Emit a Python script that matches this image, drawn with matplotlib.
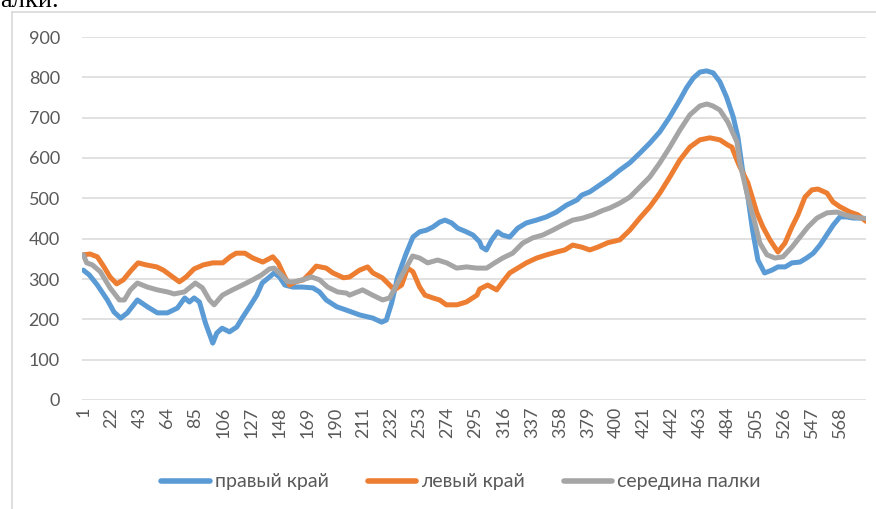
import matplotlib
matplotlib.use("Agg")
import matplotlib.pyplot as plt
from matplotlib.lines import Line2D

# ---- data ----
x_right = [1, 5.5, 11.5, 19, 24, 29, 34, 41.5, 49, 56.5, 64, 71.5, 77, 80.5, 84, 88, 92.5, 98,
           101, 105, 110.5, 116, 120, 125.5, 131, 135, 140.5, 144, 148, 152, 158, 165, 173, 178,
           183, 191, 198, 208, 218, 224.5, 228, 232, 236.5, 243, 248, 253, 258, 263, 268, 272,
           277, 281.5, 288, 293, 298, 299.5, 303, 307, 311.5, 315, 320.5, 326.5, 333, 340.5, 348,
           355.5, 363, 371, 374.5, 380.5, 388, 395.5, 403, 410.5, 418, 425.5, 433, 440.5, 448,
           453, 458, 463, 468, 473, 478, 483, 488, 491.5, 495, 499, 502.5, 506.5, 511.5, 517,
           521.5, 527, 532, 538, 543, 548, 553, 558, 563, 568, 573, 578, 584.5, 587.5]
right_edge = [322, 310, 285, 248, 218, 203, 216, 248, 231, 216, 216, 228, 253, 243, 253, 243, 191, 141,
              166, 178, 169, 181, 203, 231, 260, 290, 305, 315, 305, 285, 280, 280, 278, 268,
              248, 231, 223, 211, 203, 193, 198, 240, 305, 364, 404, 417, 421, 429, 441, 446,
              439, 426, 417, 409, 392, 379, 372, 397, 417, 409, 404, 426, 439, 446, 454,
              466, 483, 496, 508, 516, 533, 550, 570, 588, 612, 637, 665, 702, 744,
              774, 798, 813, 816, 811, 789, 751, 702, 652, 570, 503, 421, 347, 315, 322,
              330, 330, 340, 342, 352, 364, 384, 409, 434, 454, 454, 451, 451, 448]

x_left = [1, 6, 11.5, 16.5, 21, 26, 31, 37, 42, 48, 56, 61, 68, 73, 78, 84, 91, 98, 105.5, 111,
          115.5, 122, 128, 135.5, 143, 147, 152, 155.5, 160, 166, 171, 175.5, 183, 188, 196,
          200.5, 208, 214, 218, 225, 229, 234, 239.5, 244, 248, 253, 257, 263, 268, 273, 281,
          288, 296, 298, 304, 310.75, 315.25, 320.5, 326.5, 333, 340.75, 348.25, 355.75, 361.75,
          367.75, 374.5, 380.5, 386.5, 394, 403, 410.5, 418, 425.5, 433, 440.5, 448, 455.5, 463,
          470.5, 478, 484, 487, 490.75, 493, 499, 505.75, 510.25, 515.5, 521.5, 526.75, 532,
          536.5, 541.75, 547, 551.5, 558.25, 562.75, 568, 575.5, 581.5, 587.5]
left_edge = [360, 362, 355, 330, 305, 288, 298, 322, 340, 335, 330, 322, 305, 293, 305, 325, 335, 340, 340, 355,
             364, 364, 352, 342, 355, 340, 305, 285, 293, 298, 315, 332, 327, 315, 303,
             305, 322, 330, 315, 303, 290, 273, 285, 327, 318, 280, 260, 253, 248, 236, 236,
             243, 260, 275, 285, 273, 293, 315, 327, 340, 352, 360, 367, 372,
             384, 379, 372, 379, 390, 397, 421, 451, 479, 513, 553, 595, 627, 645,
             650, 645, 632, 627, 595, 578, 538, 464, 429, 397, 367, 389, 429,
             459, 503, 521, 523, 513, 491, 479, 466, 459, 443]

x_mid = [1, 3.5, 7.75, 13.75, 21, 28, 31.75, 36.25, 41.5, 49, 56.5, 64, 69, 76.75, 81.25, 85, 90.25,
         95.5, 99, 105.25, 112.75, 120.25, 128, 134.5, 140.5, 144, 149.5, 154, 159, 165.25, 172,
         178, 184, 191.5, 198.25, 200.5, 210.25, 217.75, 225.25, 230.5, 236.5, 243.25, 247.75, 253,
         259, 266.5, 273.25, 280.75, 288.25, 295.75, 303.25, 309.25, 315.25, 322.75, 330.25,
         337.75, 345.25, 352.75, 360.25, 367.75, 375.25, 382.75, 390.25, 395.5, 403, 410.5, 418,
         425.5, 433, 440.5, 448, 455.5, 463, 468.25, 472.75, 478, 484, 490.75, 493, 499, 504.25,
         508, 513.25, 519.25, 525.25, 532, 538, 544, 550.75, 558.25, 565.75, 571.75, 577.75,
         584.5, 587.5]
middle = [360, 340, 335, 318, 278, 248, 248, 273, 290, 280, 273, 268, 263, 268, 280, 290, 278,
          248, 236, 260, 273, 285, 298, 310, 325, 327, 310, 293, 293, 298, 305,
          298, 280, 268, 265, 260, 273, 260, 248, 253, 290, 330, 357, 352,
          340, 347, 340, 327, 330, 327, 327, 340, 352, 364, 389,
          402, 409, 421, 434, 446, 451, 459, 470, 476, 488, 503, 528,
          553, 588, 627, 669, 707, 729, 734, 729, 719, 689, 640, 588, 503, 439,
          389, 360, 352, 355, 379, 404, 429, 451, 464, 466, 459, 454,
          451, 450]

series_names = ["правый край", "левый край", "середина палки"]
series_colors = ["#5B9BD5", "#ED7D31", "#A5A5A5"]
tick_labels = [str(v) for v in range(1, 588, 21)]
y_ticks = list(range(0, 901, 100))

# ---- figure ----
W, H = 876, 509
fig = plt.figure(figsize=(W / 100, H / 100), dpi=100)
fig.patch.set_facecolor("white")

font = ["Lato", "DejaVu Sans"]
txt_color = "#595959"

ax = fig.add_axes([82 / W, (H - 400) / H, (866 - 82) / W, (400 - 37) / H])
for xs, ys, name, col in zip([x_right, x_left, x_mid], [right_edge, left_edge, middle],
                             series_names, series_colors):
    ax.plot(xs, ys, color=col, lw=3.6, label=name, solid_joinstyle="round",
            solid_capstyle="round")

ax.set_ylim(0, 900)
ax.set_xlim(0.0, 587.5)
ax.set_yticks(y_ticks)
ax.set_yticklabels([str(v) for v in y_ticks], fontfamily=font, fontsize=13, color=txt_color)
ax.set_xticks([int(t) for t in tick_labels])
ax.set_xticklabels(tick_labels, rotation=90, fontfamily=font, fontsize=13, color=txt_color)
ax.tick_params(axis="y", length=0, pad=16)
ax.tick_params(axis="x", length=0, pad=5)
ax.grid(axis="y", color="#D9D9D9", lw=1.1)
ax.set_axisbelow(True)
for s in ax.spines.values():
    s.set_visible(False)

leg = fig.legend(loc="center", bbox_to_anchor=(461 / W, (H - 482) / H), ncol=3,
                 frameon=False, handlelength=2.5, columnspacing=2.0, handletextpad=0.25,
                 prop={"family": font, "size": 14})
for t in leg.get_texts():
    t.set_color(txt_color)
for l in leg.get_lines():
    l.set_linewidth(4)

# chart frame (light grey, left and top edges visible)
fig.add_artist(Line2D([12 / W, 12 / W], [0, (H - 12) / H], color="#D9D9D9", lw=1.2))
fig.add_artist(Line2D([12 / W, 1], [(H - 12) / H, (H - 12) / H], color="#D9D9D9", lw=1.2))

# document text above the chart (only its lower part shows in the reference)
fig.text(0 / W, (H - 7) / H, "алки.", fontfamily=["Liberation Serif"], fontsize=19,
         color="black", va="baseline", ha="left")

fig.savefig("out.png", dpi=100, facecolor="white")
